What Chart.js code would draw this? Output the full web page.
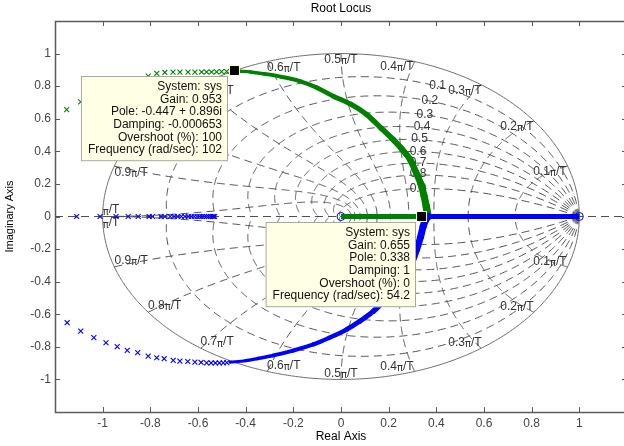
<!DOCTYPE html>
<html lang="en">
<head>
<meta charset="UTF-8">
<title>Root Locus</title>
<script src="https://cdn.jsdelivr.net/npm/chart.js@4.4.0/dist/chart.umd.min.js"></script>
<style>
  body { margin: 0; background: #fff; }
  #wrap { width: 624px; height: 446px; overflow: hidden; }
</style>
</head>
<body>
<div id="wrap"><canvas id="rl" width="640" height="446"></canvas></div>
<script>
// blue branch: markers on the negative real axis
const blueAxisRe = [-1.109, -1.011, -0.944, -0.893, -0.851, -0.805, -0.791, -0.755, -0.739, -0.717, -0.700, -0.685, -0.670, -0.655, -0.641, -0.628, -0.616, -0.604, -0.593, -0.583, -0.573, -0.564, -0.556, -0.548, -0.541, -0.535, -0.530];
// blue branch: sparse markers, lower left
const blueLowRe = [-1.149, -1.092, -1.037, -0.986, -0.939, -0.897, -0.853, -0.809, -0.773, -0.742, -0.704, -0.676, -0.643, -0.613, -0.587, -0.564, -0.545, -0.527, -0.510, -0.494, -0.479];
const blueLowIm = [-0.652, -0.704, -0.744, -0.775, -0.799, -0.822, -0.836, -0.857, -0.867, -0.873, -0.883, -0.888, -0.890, -0.894, -0.896, -0.898, -0.899, -0.899, -0.899, -0.898, -0.897];
// blue branch: dense curve, then the real axis from the break-in point to 1
const blueRe = [-0.466, -0.40, -0.35, -0.284, -0.20, -0.116, -0.05, 0.024, 0.08, 0.136, 0.206, 0.245, 0.276, 0.300, 0.318, 0.333, 0.345, 0.355, 0.365];
const blueIm = [-0.894, -0.885, -0.872, -0.853, -0.823, -0.785, -0.745, -0.693, -0.642, -0.581, -0.479, -0.415, -0.345, -0.275, -0.202, -0.13, -0.06, -0.02, 0];
const blueLineRe = [0.365, 1.0];
// green branch: real axis from 0, then dense curve up to the data tip
const greenLineRe = [0, 0.365];
const greenRe = [0.365, 0.358, 0.348, 0.335, 0.315, 0.29, 0.255, 0.219, 0.17, 0.108, 0.04, -0.032, -0.10, -0.172, -0.25, -0.32, -0.38, -0.424, -0.447];
const greenIm = [0, 0.06, 0.13, 0.20, 0.27, 0.35, 0.415, 0.472, 0.54, 0.626, 0.69, 0.738, 0.79, 0.83, 0.857, 0.875, 0.887, 0.893, 0.896];
// green branch: sparse markers, upper left
const greenUpRe = [-1.151, -1.092, -1.037, -0.986, -0.939, -0.897, -0.853, -0.809, -0.773, -0.739, -0.705, -0.676, -0.642, -0.613, -0.585, -0.564, -0.543, -0.522, -0.501, -0.480];
const greenUpIm = [0.656, 0.704, 0.744, 0.775, 0.799, 0.822, 0.845, 0.862, 0.878, 0.884, 0.886, 0.886, 0.886, 0.886, 0.887, 0.887, 0.887, 0.888, 0.889, 0.890];
// zeros
const zeroRe = [0, 1];
const zeroIm = [0, 0];

// zgrid
const zetaGrid = [0.1, 0.2, 0.3, 0.4, 0.5, 0.6, 0.7, 0.8, 0.9];
const zetaLabelRe = [0.405, 0.373, 0.352, 0.34, 0.33, 0.323, 0.323, 0.323, 0.323];
const zetaLabelIm = [0.80, 0.71, 0.626, 0.55, 0.478, 0.40, 0.33, 0.264, 0.17];
const wnGrid = ['0.1', '0.2', '0.3', '0.4', '0.5', '0.6', '0.7', '0.8', '0.9', ''];
const wnLabelRe = [0.877, 0.738, 0.52, 0.235, 0.0, -0.24, -0.52, -0.74, -0.88, -0.965];
const wnLabelIm = [0.276, 0.552, 0.773, 0.92, 0.965, 0.914, 0.77, 0.546, 0.27, 0.04];

// data tips
const tipA = { re: -0.447, im: 0.896, lines: ['System: sys', 'Gain: 0.953', 'Pole: -0.447 + 0.896i', 'Damping: -0.000653', 'Overshoot (%): 100', 'Frequency (rad/sec): 102'] };
const tipB = { re: 0.338, im: 0, lines: ['System: sys', 'Gain: 0.655', 'Pole: 0.338', 'Damping: 1', 'Overshoot (%): 0', 'Frequency (rad/sec): 54.2'] };

const xTicks = [-1, -0.8, -0.6, -0.4, -0.2, 0, 0.2, 0.4, 0.6, 0.8, 1];
const yTicks = [-1, -0.8, -0.6, -0.4, -0.2, 0, 0.2, 0.4, 0.6, 0.8, 1];

const FONT = '"Liberation Sans", Arial, sans-serif';
const pts = (re, im) => re.map((v, i) => ({ x: v, y: im ? im[i] : 0 }));

function px(chart, re, im) {
  return [chart.scales.x.getPixelForValue(re), chart.scales.y.getPixelForValue(im)];
}

function piLabel(ctx, pre, cx, cy) {
  ctx.font = '12px ' + FONT;
  const w1 = ctx.measureText(pre).width;
  const w3 = ctx.measureText('/T').width;
  ctx.font = '10px "DejaVu Sans"';
  const w2 = ctx.measureText('\u03c0').width;
  let x = cx - (w1 + w2 + w3) / 2;
  ctx.textAlign = 'left';
  ctx.textBaseline = 'middle';
  ctx.font = '12px ' + FONT;
  ctx.fillText(pre, x, cy);
  x += w1;
  ctx.font = '10px "DejaVu Sans"';
  ctx.fillText('\u03c0', x, cy + 2);
  x += w2;
  ctx.font = '12px ' + FONT;
  ctx.fillText('/T', x, cy);
}

function drawTip(ctx, chart, tip) {
  const [x, y] = px(chart, tip.re, tip.im);
  ctx.font = '12px ' + FONT;
  const w = Math.max(...tip.lines.map(l => ctx.measureText(l).width)) + 13;
  const h = tip.lines.length * 12.7 + 9;
  const right = Math.round(x - 6), top = Math.round(y + 5);
  ctx.fillStyle = '#ffffe6';
  ctx.fillRect(right - w, top, w, h);
  ctx.strokeStyle = '#a8a8a0';
  ctx.lineWidth = 1;
  ctx.strokeRect(right - w + 0.5, top + 0.5, w - 1, h - 1);
  ctx.fillStyle = '#111';
  ctx.textAlign = 'right';
  ctx.textBaseline = 'middle';
  tip.lines.forEach((l, i) => ctx.fillText(l, right - 6, top + 10.5 + i * 12.7));
  ctx.fillStyle = '#000';
  ctx.fillRect(x - 4.5, y - 4.5, 9, 9);
  ctx.strokeStyle = '#ffffd0';
  ctx.strokeRect(x - 5, y - 5, 10, 10);
}

const zgridPlugin = {
  id: 'zgrid',
  beforeDatasetsDraw(chart) {
    const ctx = chart.ctx, a = chart.chartArea;
    ctx.save();
    ctx.beginPath();
    ctx.rect(a.left, a.top, a.right - a.left, a.bottom - a.top);
    ctx.clip();
    ctx.strokeStyle = '#505050';
    ctx.lineWidth = 1;
    ctx.setLineDash([8, 5]);
    // real axis
    const y0 = chart.scales.y.getPixelForValue(0);
    ctx.beginPath();
    ctx.moveTo(a.left, y0);
    ctx.lineTo(a.right, y0);
    ctx.stroke();
    // damping curves
    zetaGrid.forEach(z => {
      const m = z / Math.sqrt(1 - z * z);
      [1, -1].forEach(s => {
        ctx.beginPath();
        for (let i = 0; i <= 400; i++) {
          const th = Math.PI * i / 400, r = Math.exp(-m * th);
          const [X, Y] = px(chart, r * Math.cos(th), s * r * Math.sin(th));
          i ? ctx.lineTo(X, Y) : ctx.moveTo(X, Y);
        }
        ctx.stroke();
      });
    });
    // natural frequency curves
    wnGrid.forEach((_, k) => {
      const w = (k + 1) * Math.PI / 10;
      [1, -1].forEach(s => {
        ctx.beginPath();
        for (let i = 0; i <= 200; i++) {
          const zt = i / 200, r = Math.exp(-zt * w), an = w * Math.sqrt(1 - zt * zt);
          const [X, Y] = px(chart, r * Math.cos(an), s * r * Math.sin(an));
          i ? ctx.lineTo(X, Y) : ctx.moveTo(X, Y);
        }
        ctx.stroke();
      });
    });
    // unit circle
    ctx.setLineDash([]);
    ctx.strokeStyle = '#6a6a6a';
    ctx.beginPath();
    for (let i = 0; i <= 720; i++) {
      const th = 2 * Math.PI * i / 720;
      const [X, Y] = px(chart, Math.cos(th), Math.sin(th));
      i ? ctx.lineTo(X, Y) : ctx.moveTo(X, Y);
    }
    ctx.stroke();
    // labels
    ctx.fillStyle = '#333';
    wnGrid.forEach((pre, k) => {
      [1, -1].forEach(s => {
        const [X, Y] = px(chart, wnLabelRe[k], s * wnLabelIm[k]);
        piLabel(ctx, pre, X, Y);
      });
    });
    ctx.font = '12px ' + FONT;
    ctx.textAlign = 'center';
    ctx.textBaseline = 'middle';
    zetaGrid.forEach((z, i) => {
      const [X, Y] = px(chart, zetaLabelRe[i], zetaLabelIm[i]);
      ctx.fillText(String(z), X, Y);
    });
    ctx.restore();
  },
  afterDatasetsDraw(chart) {
    const ctx = chart.ctx, a = chart.chartArea;
    ctx.save();
    drawTip(ctx, chart, tipA);
    drawTip(ctx, chart, tipB);
    // box and inward ticks
    ctx.strokeStyle = '#5a5a5a';
    ctx.lineWidth = 1.5;
    ctx.strokeRect(a.left + 0.5, a.top + 0.5, a.right - a.left, a.bottom - a.top);
    ctx.lineWidth = 1;
    ctx.beginPath();
    xTicks.forEach(v => {
      const X = Math.round(chart.scales.x.getPixelForValue(v)) + 0.5;
      ctx.moveTo(X, a.top); ctx.lineTo(X, a.top + 5);
      ctx.moveTo(X, a.bottom); ctx.lineTo(X, a.bottom - 5);
    });
    yTicks.forEach(v => {
      const Y = Math.round(chart.scales.y.getPixelForValue(v)) + 0.5;
      ctx.moveTo(a.left, Y); ctx.lineTo(a.left + 5, Y);
      ctx.moveTo(a.right, Y); ctx.lineTo(a.right - 5, Y);
    });
    ctx.stroke();
    // titles
    ctx.fillStyle = '#000';
    ctx.font = '12px ' + FONT;
    ctx.textAlign = 'center';
    ctx.textBaseline = 'middle';
    const cx = (a.left + a.right) / 2;
    ctx.fillText('Root Locus', cx, 9);
    ctx.fillText('Real Axis', cx, 437);
    ctx.translate(10, (a.top + a.bottom) / 2);
    ctx.rotate(-Math.PI / 2);
    ctx.font = '11px ' + FONT;
    ctx.fillText('Imaginary Axis', 0, 0);
    ctx.restore();
  }
};

const tickOpts = {
  stepSize: 0.2,
  padding: 4,
  color: '#444',
  font: { family: FONT, size: 12 },
  callback: v => Math.abs(v) > 1.05 ? '' : String(Math.round(v * 10) / 10)
};

// band of overlapping markers: thin far from the real axis, wide near it
const blueWidth = c => 3 + 4.5 * c.p0DataIndex / (blueRe.length - 2);
const greenWidth = c => 7.5 - 4.5 * c.p0DataIndex / (greenRe.length - 2);

const markers = { showLine: false, pointStyle: 'crossRot', pointRadius: 3.5, borderWidth: 1.1 };
const curve = { showLine: true, pointRadius: 0, tension: 0.35, borderCapStyle: 'round', borderJoinStyle: 'round' };

new Chart(document.getElementById('rl'), {
  type: 'scatter',
  data: {
    datasets: [
      { ...markers, data: pts(blueAxisRe), borderColor: '#0000ff' },
      { ...markers, data: pts(blueLowRe, blueLowIm), borderColor: '#0000ff' },
      { ...curve, data: pts(blueRe, blueIm), borderColor: '#0000ff', borderWidth: 5, segment: { borderWidth: blueWidth } },
      { showLine: true, pointRadius: 0, data: pts(blueLineRe), borderColor: '#0000ff', borderWidth: 5 },
      { ...markers, data: pts(greenUpRe, greenUpIm), borderColor: '#008000' },
      { showLine: true, pointRadius: 0, data: pts(greenLineRe), borderColor: '#008000', borderWidth: 5 },
      { ...curve, data: pts(greenRe, greenIm), borderColor: '#008000', borderWidth: 5, segment: { borderWidth: greenWidth } },
      { data: pts(zeroRe, zeroIm), showLine: false, pointStyle: 'circle', pointRadius: 4, borderWidth: 1, borderColor: '#0000ff', backgroundColor: 'rgba(0,0,0,0)' }
    ]
  },
  options: {
    responsive: false,
    animation: false,
    layout: { padding: { left: 0, right: 13, top: 21, bottom: 0 } },
    plugins: { legend: { display: false }, tooltip: { enabled: false } },
    scales: {
      x: {
        min: -1.2, max: 1.2,
        grid: { display: false, drawTicks: false },
        border: { display: false },
        ticks: tickOpts,
        afterFit: s => { s.height = 34; }
      },
      y: {
        min: -1.2, max: 1.2,
        grid: { display: false, drawTicks: false },
        border: { display: false },
        ticks: tickOpts,
        afterFit: s => { s.width = 55; }
      }
    }
  },
  plugins: [zgridPlugin]
});
</script>
</body>
</html>
